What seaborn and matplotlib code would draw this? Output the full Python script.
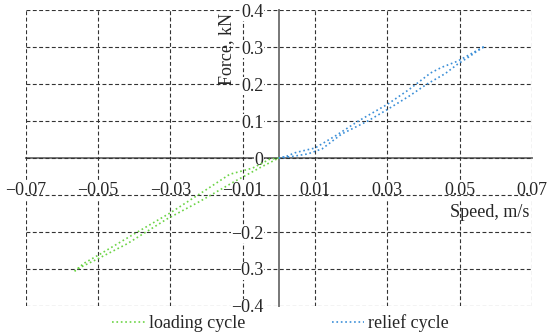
import numpy as np
import pandas as pd
import seaborn as sns
import matplotlib.pyplot as plt
from matplotlib.ticker import FuncFormatter

# -----------------------------
# Data
# -----------------------------
loading_speed = [0, -0.0025, -0.0072, -0.0136, -0.020, -0.030, -0.040, -0.0495, -0.054, -0.0564,
                 -0.055, -0.050, -0.042, -0.031, -0.022, -0.012, -0.005, 0]
loading_force = [0, -0.003, -0.027, -0.044, -0.085, -0.148, -0.205, -0.260, -0.285, -0.305,
                 -0.296, -0.272, -0.232, -0.165, -0.118, -0.062, -0.025, 0]

relief_speed = [0, 0.003, 0.006, 0.008, 0.012, 0.0174, 0.0246, 0.030, 0.036, 0.041, 0.046, 0.0495,
                0.053, 0.055, 0.057,
                0.056, 0.0495, 0.045, 0.042, 0.036, 0.030, 0.022, 0.016, 0.010, 0.006, 0.0044, 0.002, 0]
relief_force = [0, 0.003, 0.008, 0.011, 0.025, 0.065, 0.100, 0.131, 0.167, 0.200, 0.228, 0.254,
                0.276, 0.290, 0.302,
                0.297, 0.262, 0.245, 0.230, 0.185, 0.145, 0.100, 0.062, 0.027, 0.018, 0.014, 0.004, 0]

x_ticks = [-0.07, -0.05, -0.03, -0.01, 0.01, 0.03, 0.05, 0.07]
y_ticks = [-0.4, -0.3, -0.2, -0.1, 0, 0.1, 0.2, 0.3, 0.4]
y_labels = ["\u22120.4", "\u22120.3", "\u22120.2", "", "0", "0.1", "0.2", "0.3", "0.4"]

df = pd.concat([
    pd.DataFrame({"speed": loading_speed, "force": loading_force, "cycle": "loading cycle"}),
    pd.DataFrame({"speed": relief_speed, "force": relief_force, "cycle": "relief cycle"}),
], ignore_index=True)

# -----------------------------
# Style
# -----------------------------
sns.set_style("white")
plt.rcParams["font.family"] = ["Liberation Serif", "DejaVu Serif"]
plt.rcParams["font.size"] = 13

fig = plt.figure(figsize=(5.5, 3.35), dpi=100)
ax = fig.add_axes([0.047, 0.0866, 0.92, 0.8834])

palette = {"loading cycle": "#6cd446", "relief cycle": "#3b8fd8"}
sns.lineplot(data=df, x="speed", y="force", hue="cycle", estimator=None, sort=False,
             palette=palette, linestyle=":", linewidth=1.2, ax=ax, legend=False, zorder=3)

ax.set_xlim(-0.07, 0.07)
ax.set_ylim(-0.4, 0.4)
ax.set_xticks(x_ticks)
ax.set_yticks(y_ticks)
ax.xaxis.set_major_formatter(FuncFormatter(lambda v, p: f"{v:.2f}".replace("-", "\u2212")))
ax.set_yticklabels(y_labels)

# dashed grid forms the frame
ax.set_axisbelow(True)
ax.grid(True, color="#333333", linestyle=(0, (3.5, 2.2)), linewidth=0.8)
for s in ["top", "right"]:
    ax.spines[s].set_visible(False)
for s in ["left", "bottom"]:
    ax.spines[s].set_position(("data", 0))
    ax.spines[s].set_color("#777777")
    ax.spines[s].set_linewidth(1.4)
    ax.spines[s].set_zorder(0.4)

ax.tick_params(axis="x", direction="out", length=5, width=1, color="#555555", pad=12, labelsize=13)
ax.tick_params(axis="y", length=0, pad=11, labelsize=13)
for lbl in ax.get_xticklabels() + ax.get_yticklabels():
    lbl.set_bbox(dict(facecolor="white", edgecolor="none", pad=0.3))

ax.set_xlabel("")
ax.set_ylabel("")
ax.text(-0.0144, 0.392, "Force, kN", rotation=90, ha="center", va="top", fontsize=13)
ax.text(0.0692, -0.148, "Speed, m/s", ha="right", va="center", fontsize=13)

handles = ax.get_lines()[:2]
fig.legend(handles, ["loading cycle", "relief cycle"], loc="center", bbox_to_anchor=(0.51, 0.036),
           ncol=2, frameon=False, handlelength=1.8, columnspacing=4.8, handletextpad=0.2, fontsize=13)

fig.savefig("out.png", dpi=100)
